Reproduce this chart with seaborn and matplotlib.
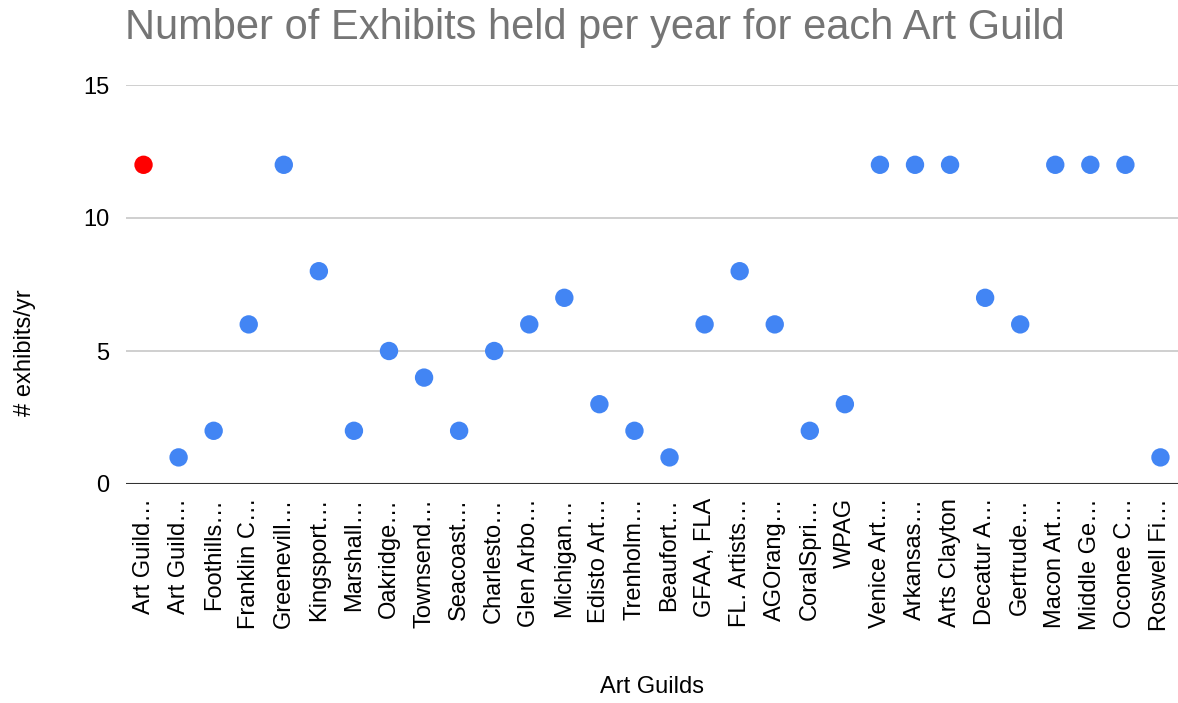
import matplotlib
matplotlib.use("Agg")
import matplotlib.pyplot as plt
import seaborn as sns
import pandas as pd

guilds = ["Art Guild…", "Art Guild…", "Foothills…", "Franklin C…", "Greenevill…",
          "Kingsport…", "Marshall…", "Oakridge…", "Townsend…", "Seacoast…",
          "Charlesto…", "Glen Arbo…", "Michigan…", "Edisto Art…", "Trenholm…",
          "Beaufort…", "GFAA, FLA", "FL. Artists…", "AGOrang…", "CoralSpri…",
          "WPAG", "Venice Art…", "Arkansas…", "Arts Clayton", "Decatur A…",
          "Gertrude…", "Macon Art…", "Middle Ge…", "Oconee C…", "Roswell Fi…"]
exhibits = [12, 1, 2, 6, 12, 8, 2, 5, 4, 2, 5, 6, 7, 3, 2, 1, 6, 8, 6, 2, 3,
            12, 12, 12, 7, 6, 12, 12, 12, 1]
highlight = ["first"] + ["other"] * (len(guilds) - 1)
yticks = [0, 5, 10, 15]

sns.set_theme(style="white")
plt.rcParams['font.family'] = ['Liberation Sans', 'DejaVu Sans']

df = pd.DataFrame({"pos": range(len(guilds)), "guild": guilds,
                   "exhibits": exhibits, "kind": highlight})

fig = plt.figure(figsize=(11.78, 7.03), dpi=100)
ax = fig.add_axes([126/1178, 1 - 484/703, 1 - 126/1178, (484 - 85)/703])

for y in yticks[1:]:
    ax.axhline(y, color="#cccccc", lw=1.3, zorder=0)
ax.axhline(0, color="#333333", lw=1.5, zorder=1)

sns.scatterplot(data=df, x="pos", y="exhibits", hue="kind",
                palette={"first": "#ff0000", "other": "#4285f4"},
                s=175, linewidth=0, legend=False, ax=ax, zorder=3, clip_on=False)

ax.set_xlim(-0.5, len(guilds) - 0.5)
ax.set_ylim(0, 15)
ax.set_xticks(range(len(guilds)))
ax.set_xticklabels(guilds, rotation=90, ha="center", va="top", fontsize=17, color="#000000")
ax.set_yticks(yticks)
ax.set_yticklabels([str(v) for v in yticks], fontsize=17, color="#000000")
ax.tick_params(axis="both", length=0)
ax.tick_params(axis="x", pad=10)
ax.tick_params(axis="y", pad=12)
for sp in ax.spines.values():
    sp.set_visible(False)

ax.set_xlabel("")
ax.set_ylabel("")
fig.text(25/1178, 1 - 353/703, "# exhibits/yr", rotation=90, ha="center", va="center",
         fontsize=17, color="#000000")
fig.text(652/1178, 1 - 687/703, "Art Guilds", ha="center", va="center",
         fontsize=17, color="#000000")
fig.text(125/1178, 1 - 39/703, "Number of Exhibits held per year for each Art Guild",
         ha="left", va="baseline", fontsize=30, color="#757575")

fig.savefig("out.png", dpi=100)
